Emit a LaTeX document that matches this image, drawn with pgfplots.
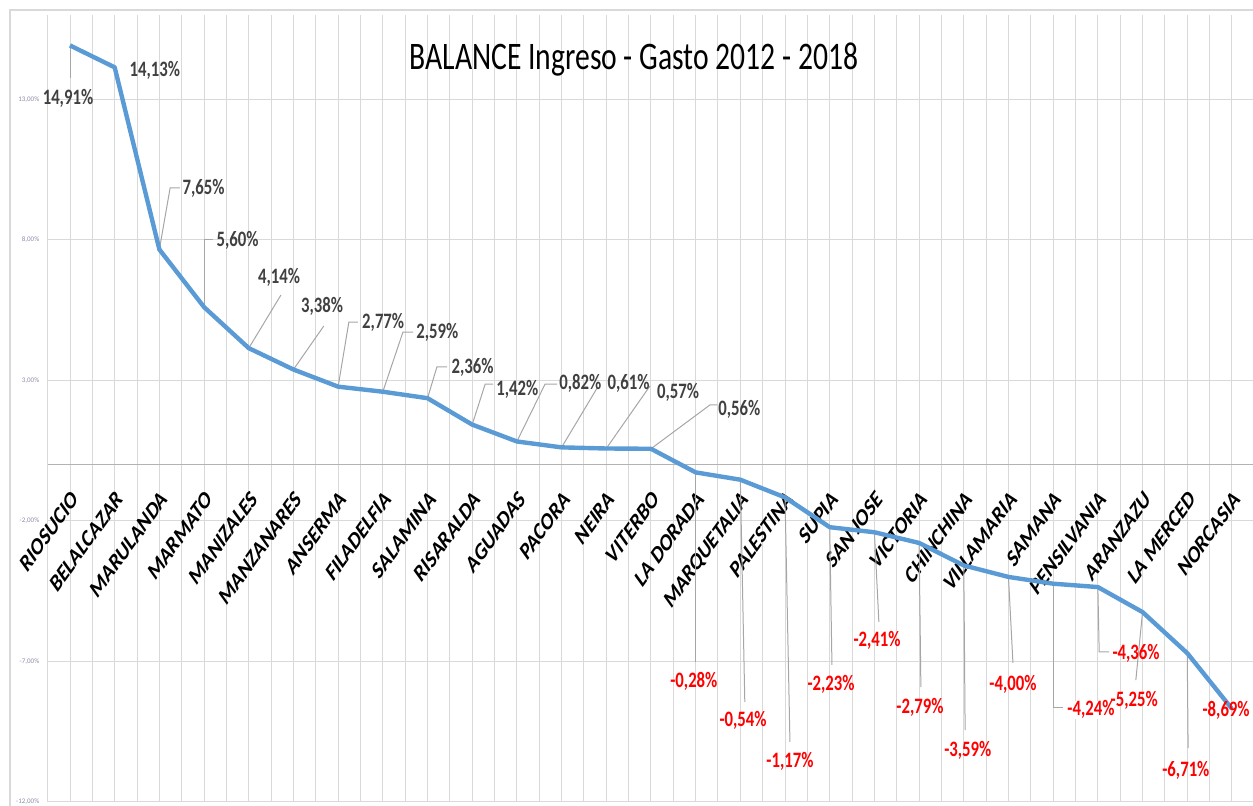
\documentclass[border=0pt]{standalone}
\usepackage{pgfplots}
\pgfplotsset{compat=1.18}
\usepackage{fontspec}
\setmainfont{Carlito}
\newfontfamily\cond{Carlito}[FakeStretch=0.76]
\definecolor{lineblue}{HTML}{5B9BD5}
\definecolor{gridc}{HTML}{D9D9D9}
\definecolor{labc}{HTML}{404040}
\definecolor{leadc}{HTML}{A6A6A6}
\definecolor{ticklab}{HTML}{8C8CA8}
\tikzset{
  pl/.style={font=\cond\bfseries\fontsize{11}{13}\selectfont, text=labc, inner sep=0pt},
  nl/.style={font=\cond\bfseries\fontsize{11}{13}\selectfont, text=red, inner sep=0pt},
  ld/.style={draw=leadc, line width=0.5pt},
}
\begin{document}
\begin{tikzpicture}[x=1pt,y=1pt]
\useasboundingbox (0,0) rectangle (626.5,402.5);
\draw[gridc, line width=0.6pt] (5,-5) -- (5,397.5) -- (640,397.5);
\begin{axis}[
  at={(23.83pt,1.6pt)}, anchor=south west,
  scale only axis, width=603.3pt, height=393.5pt,
  xmin=-0.5, xmax=26.5, ymin=-12, ymax=16,
  axis x line=middle, axis y line=left,
  axis line style={-},
  x axis line style={draw=black!30, line width=0.6pt},
  y axis line style={draw=gridc, line width=0.5pt},
  xtick={0,...,26},
  minor xtick={-0.5,0.5,...,26.5},
  xmajorgrids, xminorgrids, ymajorgrids,
  grid style={gridc, line width=0.5pt},
  minor grid style={gridc, line width=0.5pt},
  major tick length=0pt, minor tick length=0pt,
  ytick={-12,-7,-2,3,8,13},
  yticklabel={\pgfmathprintnumber[fixed,fixed zerofill,precision=2,use comma,assume math mode=true]{\tick}\%},
  yticklabel style={font=\fontsize{3.5}{4}\selectfont, text=ticklab, inner sep=0pt, anchor=east, xshift=-4pt},
  xticklabels={RIOSUCIO,BELALCAZAR,MARULANDA,MARMATO,MANIZALES,MANZANARES,ANSERMA,FILADELFIA,SALAMINA,RISARALDA,AGUADAS,PACORA,NEIRA,VITERBO,LA DORADA,MARQUETALIA,PALESTINA,SUPIA,SAN JOSE,VICTORIA,CHINCHINA,VILLAMARIA,SAMANA,PENSILVANIA,ARANZAZU,LA MERCED,NORCASIA},
  xticklabel style={font=\bfseries\fontsize{12.5}{14}\selectfont, text=black, inner sep=0pt, anchor=north east, xshift=0.5pt, yshift=-12pt, xscale=0.72, rotate=45},
  clip=false,
]
% leader lines, positive
\draw[ld] (axis cs:0,14.91) -- (axis cs:0,13.75);
\draw[ld] (axis cs:2,7.65) -- (axis cs:2.24,9.84) -- (axis cs:2.46,9.84);
\draw[ld] (axis cs:3,5.60) -- (axis cs:3,7.99) -- (axis cs:3.20,7.99);
\draw[ld] (axis cs:4,4.14) -- (axis cs:4.72,6.03);
\draw[ld] (axis cs:5,3.38) -- (axis cs:5.68,4.93);
\draw[ld] (axis cs:6,2.77) -- (axis cs:6.24,5.07) -- (axis cs:6.44,5.07);
\draw[ld] (axis cs:7,2.59) -- (axis cs:7.45,4.71) -- (axis cs:7.68,4.71);
\draw[ld] (axis cs:8,2.36) -- (axis cs:8.21,3.47) -- (axis cs:8.44,3.47);
\draw[ld] (axis cs:9,1.42) -- (axis cs:9.29,2.86) -- (axis cs:9.47,2.86);
\draw[ld] (axis cs:10,0.82) -- (axis cs:10.63,2.86) -- (axis cs:10.90,2.86);
\draw[ld] (axis cs:11,0.61) -- (axis cs:11.81,2.76);
\draw[ld] (axis cs:12,0.57) -- (axis cs:12.98,2.80);
\draw[ld] (axis cs:13,0.56) -- (axis cs:14.32,2.12) -- (axis cs:14.48,2.12);
% leader lines, negative
\draw[ld] (axis cs:14,-0.28) -- (axis cs:14,-7.03);
\draw[ld] (axis cs:15,-0.54) -- (axis cs:15.10,-8.45);
\draw[ld] (axis cs:16,-1.17) -- (axis cs:16.11,-9.87);
\draw[ld] (axis cs:17,-2.23) -- (axis cs:17.05,-7.13);
\draw[ld] (axis cs:18,-2.41) -- (axis cs:18.10,-5.60);
\draw[ld] (axis cs:19,-2.79) -- (axis cs:19.04,-7.92);
\draw[ld] (axis cs:20,-3.59) -- (axis cs:20.03,-9.45);
\draw[ld] (axis cs:21,-4.00) -- (axis cs:21.10,-7.06);
\draw[ld] (axis cs:22,-4.24) -- (axis cs:22,-8.63) -- (axis cs:22.22,-8.63);
\draw[ld] (axis cs:23,-4.36) -- (axis cs:23.03,-6.67) -- (axis cs:23.25,-6.67);
\draw[ld] (axis cs:24,-5.25) -- (axis cs:23.85,-7.67);
\draw[ld] (axis cs:25,-6.71) -- (axis cs:25.02,-10.09);

\addplot[lineblue, line width=2.2pt, line join=round] coordinates {
(0,14.91) (1,14.13) (2,7.65) (3,5.60) (4,4.14) (5,3.38) (6,2.77) (7,2.59) (8,2.36)
(9,1.42) (10,0.82) (11,0.61) (12,0.57) (13,0.56) (14,-0.28) (15,-0.54) (16,-1.17)
(17,-2.23) (18,-2.41) (19,-2.79) (20,-3.59) (21,-4.00) (22,-4.24) (23,-4.36)
(24,-5.25) (25,-6.71) (26,-8.69)};

% labels, positive
\node[pl] at (axis cs:-0.045,13.04) {14,91\%};
\node[pl] at (axis cs:1.90,14.03) {14,13\%};
\node[pl,anchor=west] at (axis cs:2.51,9.84) {7,65\%};
\node[pl,anchor=west] at (axis cs:3.27,7.99) {5,60\%};
\node[pl] at (axis cs:4.68,6.67) {4,14\%};
\node[pl] at (axis cs:5.64,5.64) {3,38\%};
\node[pl,anchor=west] at (axis cs:6.53,5.07) {2,77\%};
\node[pl,anchor=west] at (axis cs:7.74,4.71) {2,59\%};
\node[pl,anchor=west] at (axis cs:8.53,3.47) {2,36\%};
\node[pl,anchor=west] at (axis cs:9.53,2.69) {1,42\%};
\node[pl,anchor=west] at (axis cs:10.94,2.90) {0,82\%};
\node[pl,anchor=west] at (axis cs:12.02,2.90) {0,61\%};
\node[pl,anchor=west] at (axis cs:13.13,2.58) {0,57\%};
\node[pl,anchor=west] at (axis cs:14.50,1.97) {0,56\%};
% labels, negative
\node[nl] at (axis cs:13.96,-7.70) {-0,28\%};
\node[nl] at (axis cs:15.06,-9.09) {-0,54\%};
\node[nl] at (axis cs:16.11,-10.58) {-1,17\%};
\node[nl] at (axis cs:17.03,-7.81) {-2,23\%};
\node[nl] at (axis cs:18.06,-6.24) {-2,41\%};
\node[nl] at (axis cs:19.02,-8.63) {-2,79\%};
\node[nl] at (axis cs:20.09,-10.16) {-3,59\%};
\node[nl] at (axis cs:21.10,-7.81) {-4,00\%};
\node[nl,anchor=east] at (axis cs:24.35,-8.38) {-5,25\%};
\node[nl,anchor=west,fill=white] at (axis cs:22.31,-8.73) {-4,24\%};
\node[nl,anchor=west] at (axis cs:23.32,-6.71) {-4,36\%};
\node[nl] at (axis cs:24.97,-10.87) {-6,71\%};
\node[nl] at (axis cs:25.87,-8.73) {-8,69\%};
\end{axis}
\node[anchor=base, font=\cond\fontsize{19.5}{22}\selectfont, text=black, inner sep=0pt] at (317,367.85) {BALANCE Ingreso - Gasto 2012 - 2018};
\end{tikzpicture}
\end{document}
